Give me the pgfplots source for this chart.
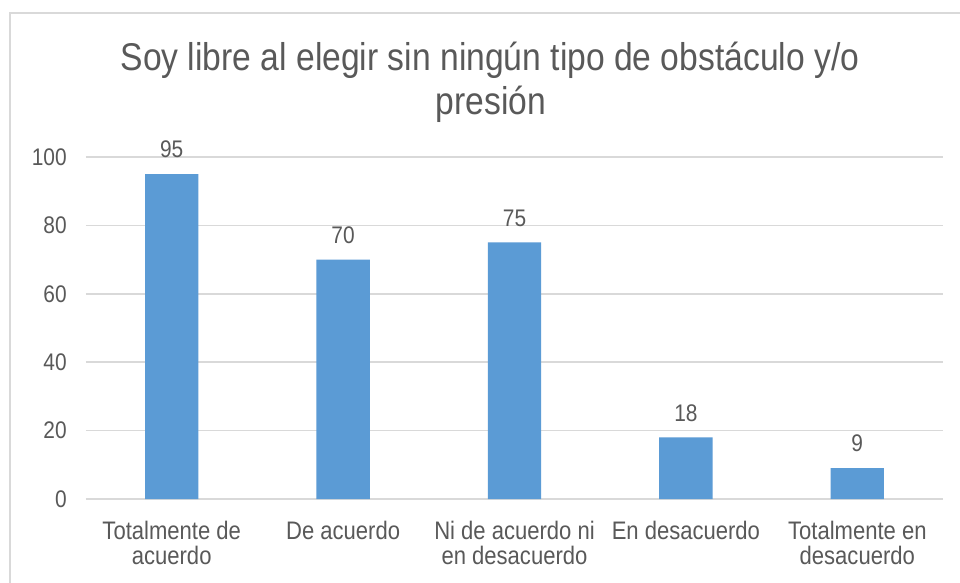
\documentclass[border=0pt]{standalone}
\usepackage{pgfplots}
\pgfplotsset{compat=1.18}
\usepackage{fontspec}
\setmainfont[FakeStretch=0.87]{Liberation Sans}
\definecolor{txt}{HTML}{595959}
\definecolor{barc}{HTML}{5B9BD5}
\definecolor{gridc}{HTML}{D9D9D9}
\begin{document}
\begin{tikzpicture}
\path[use as bounding box] (-64.5pt,-62.25pt) rectangle (655.5pt,374.25pt);
\fill[white] (-64.5pt,-62.25pt) rectangle (655.5pt,374.25pt);
\draw[gridc, line width=1.5pt] (-57pt,-63pt) -- (-57pt,364.5pt) -- (656pt,364.5pt);
\begin{axis}[
  at={(0,0)}, anchor=south west,
  scale only axis, width=642.75pt, height=256.5pt,
  xmin=-0.5, xmax=4.5, ymin=0, ymax=100,
  ytick={0,20,...,100},
  xtick=data,
  xticklabels={{Totalmente de\\acuerdo},{De acuerdo},{Ni de acuerdo ni\\en desacuerdo},{En desacuerdo},{Totalmente en\\desacuerdo}},
  ymajorgrids, grid style={gridc, line width=1.3pt},
  axis line style={draw=none},
  major tick length=0pt,
  /pgf/number format/assume math mode=true,
  yticklabel style={font=\fontsize{18}{20}\selectfont, text=txt, xshift=-11pt},
  xticklabel style={font=\fontsize{19}{19}\selectfont, text=txt, align=center, yshift=-13pt},
  ybar, bar width=40pt,
  nodes near coords,
  nodes near coords style={font=\fontsize{18}{20}\selectfont, text=txt, yshift=8.5pt},
  clip=false,
]
\addplot[fill=barc, draw=none] coordinates {(0,95) (1,70) (2,75) (3,18) (4,9)};
\end{axis}
\node[anchor=base, font=\fontsize{29}{33}\selectfont, text=txt] at (303pt,321.5pt) {Soy libre al elegir sin ningún tipo de obstáculo y/o};
\node[anchor=base, font=\fontsize{29}{33}\selectfont, text=txt] at (303.75pt,288.5pt) {presión};
\end{tikzpicture}
\end{document}
